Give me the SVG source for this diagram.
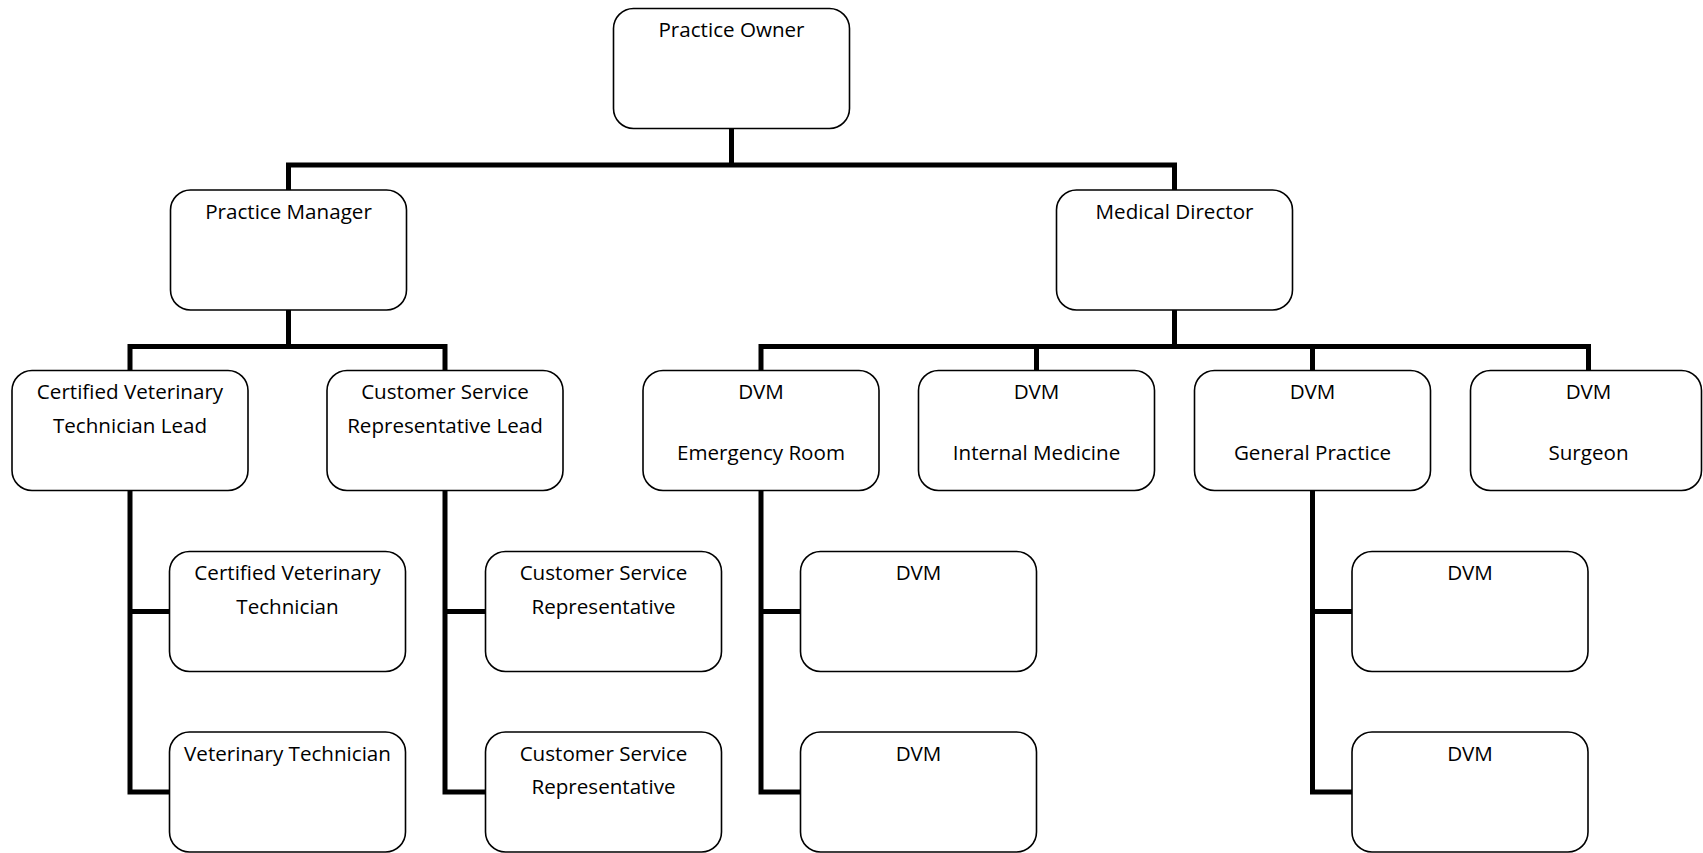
<svg xmlns="http://www.w3.org/2000/svg" width="1703" height="853" viewBox="0 0 1703 853">
<style>
.box{fill:#fff;stroke:#000;stroke-width:1.6}
.t{font-family:"Open Sans","Noto Sans",sans-serif;font-size:20.6px;fill:#000;text-anchor:middle}
.c{fill:none;stroke:#000;stroke-width:5;stroke-linejoin:miter;stroke-linecap:butt}
</style>
<rect width="1703" height="853" fill="#fff"/>
<g id="connectors">
<path class="c" d="M731.5 128.5V165M288.5 190V165H1174.5V190"/>
<path class="c" d="M288.5 310V346.5M130 370.5V346.5H445V370.5"/>
<path class="c" d="M1174.5 310V346.5M761 370.5V346.5H1588.5V370.5M1036.5 346.5V370.5M1312.5 346.5V370.5"/>
<path class="c" d="M130 490.5V792H169.5M130 611.5H169.5"/>
<path class="c" d="M445 490.5V792H485.5M445 611.5H485.5"/>
<path class="c" d="M761 490.5V792H800.5M761 611.5H800.5"/>
<path class="c" d="M1312.5 490.5V792H1352M1312.5 611.5H1352"/>
</g>
<g id="practice-owner"><rect class="box" x="613.5" y="8.5" width="236" height="120" rx="20"/><text class="t" x="731.5" y="37">Practice Owner</text></g>
<g id="practice-manager"><rect class="box" x="170.5" y="190" width="236" height="120" rx="20"/><text class="t" x="288.5" y="218.5">Practice Manager</text></g>
<g id="medical-director"><rect class="box" x="1056.5" y="190" width="236" height="120" rx="20"/><text class="t" x="1174.5" y="218.5">Medical Director</text></g>
<g id="cvt-lead"><rect class="box" x="12" y="370.5" width="236" height="120" rx="20"/><text class="t" x="130" y="399">Certified Veterinary</text><text class="t" x="130" y="432.5">Technician Lead</text></g>
<g id="csr-lead"><rect class="box" x="327" y="370.5" width="236" height="120" rx="20"/><text class="t" x="445" y="399">Customer Service</text><text class="t" x="445" y="432.5">Representative Lead</text></g>
<g id="dvm-er"><rect class="box" x="643" y="370.5" width="236" height="120" rx="20"/><text class="t" x="761" y="399">DVM</text><text class="t" x="761" y="460">Emergency Room</text></g>
<g id="dvm-im"><rect class="box" x="918.5" y="370.5" width="236" height="120" rx="20"/><text class="t" x="1036.5" y="399">DVM</text><text class="t" x="1036.5" y="460">Internal Medicine</text></g>
<g id="dvm-gp"><rect class="box" x="1194.5" y="370.5" width="236" height="120" rx="20"/><text class="t" x="1312.5" y="399">DVM</text><text class="t" x="1312.5" y="460">General Practice</text></g>
<g id="dvm-surgeon"><rect class="box" x="1470.5" y="370.5" width="231" height="120" rx="20"/><text class="t" x="1588.5" y="399">DVM</text><text class="t" x="1588.5" y="460">Surgeon</text></g>
<g id="cvt"><rect class="box" x="169.5" y="551.5" width="236" height="120" rx="20"/><text class="t" x="287.5" y="580">Certified Veterinary</text><text class="t" x="287.5" y="613.5">Technician</text></g>
<g id="vt"><rect class="box" x="169.5" y="732" width="236" height="120" rx="20"/><text class="t" x="287.5" y="760.5">Veterinary Technician</text></g>
<g id="csr-1"><rect class="box" x="485.5" y="551.5" width="236" height="120" rx="20"/><text class="t" x="603.5" y="580">Customer Service</text><text class="t" x="603.5" y="613.5">Representative</text></g>
<g id="csr-2"><rect class="box" x="485.5" y="732" width="236" height="120" rx="20"/><text class="t" x="603.5" y="760.5">Customer Service</text><text class="t" x="603.5" y="794">Representative</text></g>
<g id="dvm-er-1"><rect class="box" x="800.5" y="551.5" width="236" height="120" rx="20"/><text class="t" x="918.5" y="580">DVM</text></g>
<g id="dvm-er-2"><rect class="box" x="800.5" y="732" width="236" height="120" rx="20"/><text class="t" x="918.5" y="760.5">DVM</text></g>
<g id="dvm-gp-1"><rect class="box" x="1352" y="551.5" width="236" height="120" rx="20"/><text class="t" x="1470" y="580">DVM</text></g>
<g id="dvm-gp-2"><rect class="box" x="1352" y="732" width="236" height="120" rx="20"/><text class="t" x="1470" y="760.5">DVM</text></g>
</svg>
